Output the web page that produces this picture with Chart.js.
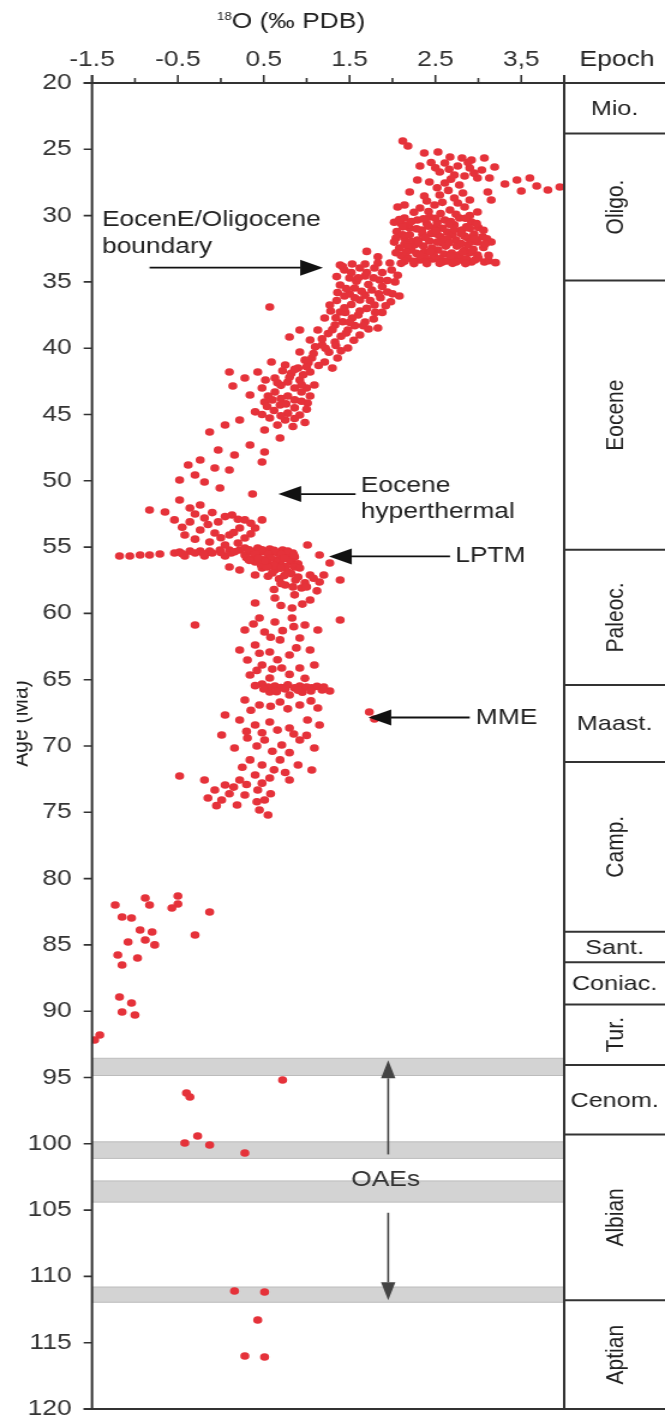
<!DOCTYPE html>
<html>
<head>
<meta charset="utf-8">
<script src="https://cdn.jsdelivr.net/npm/chart.js@4.4.1/dist/chart.umd.min.js"></script>
<style>
  html, body { margin: 0; padding: 0; background: #fff; }
  #chart { display: block; }
</style>
</head>
<body>
<canvas id="chart" style="width:665px;height:1422px"></canvas>
<script>
// oxygen isotope record, [d18O (permil PDB), age (Ma)]
const oligocene = [
  [2.12,24.37],[2.18,24.75],[2.37,25.28],[2.53,25.2],[2.67,25.58],[2.81,25.66],[2.92,25.81],[3.07,25.66],
  [2.32,26.26],[2.61,26.03],[2.76,26.26],[2.90,26.41],[3.04,26.56],[3.19,26.33],[2.55,26.71],[2.72,26.94],
  [2.84,27.01],[2.99,27.16],[3.13,27.16],[2.29,27.32],[2.43,27.47],[2.61,27.54],[2.78,27.69],[3.31,27.62],
  [3.45,27.31],[3.60,27.16],[3.68,27.77],[3.81,28.07],[3.95,27.84],[3.50,28.15],[3.11,28.22],[3.15,28.82],
  [2.20,28.22],[2.37,28.52],[2.55,28.45],[2.72,28.67],[2.90,28.82],
  [2.14,29.2],[2.32,29.43],[2.49,29.2],[2.67,29.58],[2.84,29.35],[2.99,29.73],[2.06,29.35],
  [2.45,26.0],[2.5,26.4],[2.66,26.5],[2.88,26.0],[2.95,26.8],[2.68,27.25],[2.52,27.9],[2.65,28.1],
  [2.82,28.3],[2.4,28.9],[2.58,29.0],[2.76,29.05],[2.25,29.75],[2.42,29.7],[2.56,29.85],[2.74,29.9],[2.9,30.0],
  [2.14,30.18],[2.29,30.33],[2.43,30.1],[2.61,30.33],[2.78,30.18],[2.92,30.48],
  [2.20,30.94],[2.34,31.09],[2.49,30.94],[2.64,31.24],[2.81,31.09],[2.99,31.99],[3.15,31.99],
  [2.14,31.69],[2.29,31.84],[2.43,31.92],[2.58,32.07],[2.74,31.84],[2.88,31.69],
  [2.08,32.44],[2.22,32.59],[2.37,32.74],[2.53,32.59],[2.69,32.82],[2.84,32.59],[2.99,32.97],
  [2.18,33.2],[2.32,33.35],[2.47,33.27],[2.63,33.42],[2.78,33.35],[2.92,33.5],[3.07,33.5],
  [2.05,31.2],[2.26,32.2],[2.56,31.6],[2.72,30.7],[2.40,30.6],[2.88,32.2],[2.10,30.6],[2.48,33.0],
  [2.62,32.3],[2.35,31.4],[2.95,31.4],[1.70,32.7],[1.83,33.1],
  [2.02,30.5],[2.18,30.7],[2.52,30.55],[2.86,30.85],[3.0,30.9],[2.12,31.45],[2.45,31.35],[2.7,31.45],
  [2.84,31.55],[3.05,31.6],[2.22,31.95],[2.52,32.0],[2.92,31.95],[2.14,32.15],[2.36,32.3],[2.75,32.3],
  [3.06,32.4],[2.28,32.85],[2.6,32.9],[2.78,32.95],[2.9,32.8],[2.1,33.0],[2.38,33.1],[2.55,33.25],
  [2.7,33.2],[2.86,33.25],[3.0,33.2],[3.12,33.4],[3.2,33.55],[2.25,33.45],[2.4,33.48],
  [2.08,30.3],[2.22,30.45],[2.36,30.25],[2.5,30.2],[2.68,30.45],[2.85,30.2],[2.98,30.6],
  [2.12,30.85],[2.28,31.0],[2.42,30.8],[2.58,30.95],[2.72,31.05],[2.9,30.95],[3.06,31.1],
  [2.04,31.7],[2.2,31.45],[2.38,31.65],[2.52,31.4],[2.64,31.75],[2.8,31.35],[2.96,31.75],[3.1,31.75],
  [2.02,32.0],[2.18,32.35],[2.3,32.0],[2.46,32.45],[2.66,32.05],[2.8,32.1],[2.94,32.55],[3.08,32.15],
  [2.04,32.8],[2.16,32.75],[2.32,33.0],[2.44,32.7],[2.68,33.05],[2.82,32.75],[2.96,33.35],[3.12,33.0],
  [2.14,33.45],[2.58,33.5],[2.74,33.5],[2.5,31.15],[2.66,30.65],
  // shift at the Eocene/Oligocene boundary
  [1.39,33.73],[1.53,33.65],[1.68,33.65],[1.83,33.57],[1.97,33.57],[2.10,33.6],[2.25,33.62],[2.40,33.62],
  [2.55,33.6],[2.70,33.6],[2.85,33.62]
];
const eocene = [
  [1.44,34.1],[1.62,33.95],[1.79,33.95],[1.99,34.1],[1.50,34.71],[1.68,34.56],[1.85,34.86],[2.03,35.0],
  [1.39,35.23],[1.56,35.46],[1.76,35.61],[1.94,35.76],[2.08,36.06],[1.44,36.06],[1.62,36.36],[1.79,36.74],
  [1.27,36.74],[1.39,37.27],[1.53,37.72],[1.68,38.02],[1.83,38.48],[1.21,37.72],[1.33,38.25],[1.48,38.63],
  [1.62,39.0],[1.13,38.63],[1.04,39.38],[1.18,39.76],[1.33,39.53],[1.48,39.98],[0.92,40.29],[1.06,40.74],
  [1.21,41.04],[1.36,40.74],[0.80,39.15],[0.92,38.63],[0.57,36.89],
  [1.35,34.6],[1.58,34.95],[1.72,35.2],[1.88,35.35],[1.5,35.9],[1.68,36.0],[1.86,36.2],[1.98,36.5],
  [1.35,36.4],[1.52,36.7],[1.7,37.0],[1.88,37.3],[1.45,37.3],[1.6,37.5],[1.78,37.8],[1.28,37.2],
  [1.42,38.0],[1.56,38.3],[1.72,38.55],[1.25,38.9],[1.4,39.1],[1.55,39.4],[1.1,39.9],[1.26,40.3],
  [1.4,40.2],[0.98,40.9],[1.14,41.3],[1.3,41.5],
  [1.42,33.85],[1.52,34.3],[1.7,34.3],[1.88,34.3],[2.06,34.5],[1.6,34.7],[1.78,34.7],[1.94,34.9],
  [1.46,35.5],[1.64,35.7],[1.84,35.9],[2.0,35.9],[1.36,35.8],[1.56,36.2],[1.74,36.4],[1.92,36.8],
  [1.44,36.95],[1.62,37.2],[1.8,37.3],[1.34,37.7],[1.5,38.05],[1.66,38.3],[1.3,38.6],[1.46,38.85],
  [1.18,39.3],[1.34,39.8],[1.22,40.0],[1.08,40.4],[1.02,41.1],
  [0.10,41.79],[0.14,42.85],[0.28,42.25],
  [0.75,41.27],[0.90,41.49],[1.04,41.79],[0.63,42.25],[0.78,42.55],[0.92,42.4],[1.09,42.78],[0.48,43.0],
  [0.63,43.3],[0.78,43.6],[0.94,43.3],[0.51,44.06],[0.69,44.28],[0.86,44.5],[1.01,44.13],[0.40,44.8],
  [0.57,45.26],[0.75,45.41],[0.92,45.04],[0.34,43.53],[0.43,41.79],[0.59,41.04],
  [0.82,41.9],[0.96,42.0],[0.7,42.8],[0.86,43.0],[1.0,43.0],[0.55,43.6],[0.7,43.8],[0.86,43.9],
  [1.0,44.6],[0.62,44.7],[0.78,44.9],[0.48,45.0],[0.66,45.8],[0.84,45.9],[0.98,45.6],[0.72,41.7],[0.52,42.4],
  [0.8,42.2],[0.66,42.6],[0.94,42.75],[0.6,43.9],[0.76,44.2],[0.94,44.0],[0.54,44.4],[0.7,45.1],
  [0.86,45.3],[1.04,43.6],[0.86,41.6],[1.0,41.4],
  [0.22,45.41],[0.05,45.79],[-0.13,46.32],[0.51,46.17],[0.69,46.77],[0.34,47.3],[0.51,47.83],[0.16,48.05],
  [-0.03,47.68],[-0.24,48.43],[-0.38,48.81],[-0.07,49.03],[0.10,49.19],[-0.30,49.56],[-0.48,49.94],
  [-0.19,50.09],[-0.01,50.54],
  [-0.83,52.2],[-0.65,52.35],[-0.48,51.45],[-0.36,52.05],[-0.24,51.82],[-0.54,52.95],[-0.36,53.1],
  [-0.19,52.8],[-0.03,53.1],[0.13,52.58],[0.28,52.95],[0.40,53.56],[0.48,52.95],[-0.24,53.71],[-0.07,53.94],
  [0.10,54.09],[0.28,54.31],[-0.42,54.09],[-0.13,54.62],[0.05,54.84],[0.22,53.56],[0.37,51.0],[0.48,48.58],
  [-0.3,52.5],[-0.1,52.4],[0.05,52.7],[0.2,52.9],[0.35,53.2],[-0.45,53.5],[-0.15,53.3],[0.15,53.9],
  [0.35,54.0],[-0.3,54.4],[0.0,54.3],[0.2,54.7]
];
const paleocene = [
  // LPTM excursion
  [-1.18,55.67],[-1.06,55.67],[-0.94,55.6],[-0.83,55.6],[-0.71,55.52],[-0.54,55.45],[-0.48,55.37],
  [-0.36,55.3],[-0.24,55.3],[-0.13,55.3],[-0.01,55.22],[0.10,55.22],[0.22,55.22],[-0.42,55.67],
  [-0.19,55.67],[0.05,55.67],
  [0.28,55.07],[0.43,55.07],[0.57,55.14],[0.72,55.22],[0.84,55.45],[0.28,55.6],[0.43,55.67],[0.57,55.67],
  [0.72,55.75],[0.86,55.75],[0.40,56.12],[0.55,56.2],[0.69,56.2],[0.83,56.12],[0.48,56.58],[0.63,56.73],
  [0.78,56.88],
  [0.35,55.35],[0.5,55.35],[0.65,55.4],[0.8,55.5],[0.35,55.9],[0.5,55.95],[0.65,55.95],[0.8,55.95],
  [0.47,56.35],[0.62,56.4],[0.76,56.45],[-0.3,55.45],[-0.1,55.45],[0.12,55.45],[0.3,55.8],[0.9,56.25],
  [0.33,55.2],[0.48,55.2],[0.62,55.25],[0.78,55.3],[0.4,55.5],[0.55,55.52],[0.7,55.55],[0.85,55.6],
  [0.33,56.0],[0.44,55.85],[0.58,55.82],[0.74,55.85],[0.54,56.5],[0.7,56.6],[0.86,56.5],[0.52,56.05],
  [-0.45,55.5],[-0.2,55.5],[0.0,55.4],[0.16,55.35],
  [0.92,56.58],[1.04,57.1],[0.87,57.48],[0.75,57.86],[0.94,58.08],[1.15,57.63],[1.01,54.84],[1.15,55.6],
  [1.27,56.2],[1.39,57.48],[1.04,58.99],[0.63,58.84],[0.40,59.22],[0.83,59.59],[0.40,57.1],[0.22,56.73],
  [0.10,56.5],
  [0.55,57.2],[0.68,57.4],[0.82,57.0],[0.98,57.7],[0.62,58.2],[0.86,58.6],[0.7,59.4],[0.95,59.3],[1.12,58.3],
  [0.6,56.95],[0.74,57.15],[0.9,57.25],[1.08,57.35],[0.7,57.75],[0.84,58.0],[1.0,58.0],[1.2,57.1],
  [-0.30,60.87],[1.39,60.5],[0.45,60.35],[0.63,60.65],[0.83,60.35],[0.98,60.87],[1.13,61.25],[0.51,61.4],
  [0.69,62.0],[0.92,61.85],[0.40,62.38],[0.57,62.91],[0.80,63.14],[1.04,62.76],[0.31,63.51],[0.48,63.89],
  [0.71,64.12],[0.92,64.12],[1.09,63.89],[0.34,64.65],[0.57,64.87],[0.28,61.25],[0.22,62.76],
  [0.38,60.8],[0.72,61.3],[0.85,61.0],[0.58,61.8],[0.45,63.0],[0.66,63.5],[0.88,62.6],[0.6,64.2],
  [0.8,64.6],[0.98,64.9],[0.42,64.3]
];
const maastCamp = [
  [0.48,65.32],[0.63,65.47],[0.78,65.39],[0.92,65.47],[1.06,65.62],[1.18,65.77],[1.27,65.85],[0.57,65.93],
  [0.80,66.15],[1.73,67.44],[1.79,67.96],
  [0.55,65.55],[0.7,65.6],[0.86,65.62],[1.0,65.55],[1.12,65.5],[0.65,65.9],[0.95,65.95],
  [0.5,65.7],[0.75,65.7],[0.9,65.8],[1.05,65.85],[1.2,65.55],[0.4,65.45],
  [0.28,66.53],[0.45,66.91],[0.69,66.68],[0.92,66.91],[1.13,67.13],[0.05,67.66],[0.22,68.04],[0.40,68.42],
  [0.57,68.19],[0.80,68.64],[1.01,68.04],[1.15,68.42],[0.31,69.4],[0.51,69.55],[0.71,69.92],[0.92,69.55],
  [1.09,70.15],[0.01,69.17],[0.16,70.15],
  [0.35,67.3],[0.58,67.0],[0.78,67.2],[1.05,66.6],[0.3,68.9],[0.48,69.0],[0.66,68.8],[0.85,69.1],
  [1.0,69.2],[0.42,70.0],[0.6,70.4],[0.8,70.5],[0.25,71.6],[0.62,71.8],[0.75,72.0],[0.3,72.9],
  [0.48,72.8],[0.1,73.6],[0.42,74.2],[0.58,73.6],[-0.05,74.5],[0.15,73.1],
  [-0.48,72.26],[-0.19,72.56],[-0.07,73.32],[0.05,72.94],[0.22,72.56],[-0.15,73.92],[0.01,74.07],
  [0.19,74.45],[0.34,71.05],[0.48,71.43],[0.69,71.05],[0.90,71.43],[1.06,71.81],[0.40,72.19],[0.57,72.41],
  [0.80,72.56],[0.43,73.32],[0.51,74.07],[0.45,74.83],[0.55,75.2],[0.28,73.7]
];
const lateCretaceous = [
  [-0.50,81.31],[-0.50,81.92],[-0.57,82.22],[-0.88,81.46],[-0.83,81.99],[-1.23,81.99],[-1.15,82.9],
  [-1.04,82.97],[-0.13,82.52],[-0.94,83.88],[-0.80,84.03],[-0.88,84.63],[-0.77,85.0],[-1.08,84.78],
  [-0.30,84.25],[-1.20,85.76],[-1.15,86.52],[-0.97,85.99],[-1.18,88.93],[-1.04,89.38],[-1.00,90.29],
  [-1.15,90.06],[-1.41,91.79],[-1.47,92.17]
];
const midCretaceous = [
  [0.72,95.19],[-0.40,96.17],[-0.36,96.47],[-0.27,99.41],[-0.13,100.09],[-0.42,99.94],[0.28,100.69],
  [0.16,111.1],[0.51,111.18],[0.43,113.29],[0.28,116.0],[0.51,116.08]
];

const xTickValues = [-1.5, -0.5, 0.5, 1.5, 2.5, 3.5];
const xTickLabels = ['-1.5', '-0.5', '0.5', '1.5', '2.5', '3,5'];
const xMinorTicks = [-1, 0, 1, 2, 3];
const ageTicks = [20, 25, 30, 35, 40, 45, 50, 55, 60, 65, 70, 75, 80, 85, 90, 95, 100, 105, 110, 115, 120];

const epochNames = ['Mio.', 'Oligo.', 'Eocene', 'Paleoc.', 'Maast.', 'Camp.', 'Sant.', 'Coniac.', 'Tur.', 'Cenom.', 'Albian', 'Aptian'];
const epochBounds = [20, 23.8, 34.9, 55.2, 65.4, 71.2, 84.0, 86.3, 89.5, 94.05, 99.3, 111.8, 120];
const epochUpright = [true, false, false, false, true, false, true, true, false, true, false, false];

// oceanic anoxic events
const oaeBands = [[93.55, 94.85], [99.85, 101.1], [102.8, 104.4], [110.8, 111.95]];

const FONT = "'Liberation Sans', Arial, sans-serif";
const RED = 'rgb(229, 50, 58)';
const stretch = 1.2;
const W = Math.round(665 / stretch);
const H = 1422;

const canvas = document.getElementById('chart');
canvas.width = W;
canvas.height = H;

function toXY(arr) { return arr.map(p => ({ x: p[0], y: p[1] })); }

function arrow(ctx, x0, y0, x1, y1, len, half, color, lw) {
  const ang = Math.atan2(y1 - y0, x1 - x0);
  const bx = x1 - Math.cos(ang) * len, by = y1 - Math.sin(ang) * len;
  ctx.strokeStyle = color;
  ctx.fillStyle = color;
  ctx.lineWidth = lw;
  ctx.beginPath();
  ctx.moveTo(x0, y0);
  ctx.lineTo(bx, by);
  ctx.stroke();
  ctx.beginPath();
  ctx.moveTo(x1, y1);
  ctx.lineTo(bx - Math.sin(ang) * half, by + Math.cos(ang) * half);
  ctx.lineTo(bx + Math.sin(ang) * half, by - Math.cos(ang) * half);
  ctx.closePath();
  ctx.fill();
}

const notes = [
  { lines: ['EocenE/Oligocene', 'boundary'], at: [-1.385, 30.33], step: 2.05, from: [-0.83, 33.93], to: [1.19, 33.93] },
  { lines: ['Eocene', 'hyperthermal'], at: [1.63, 50.4], step: 1.95, from: [1.57, 51.0], to: [0.67, 51.0] },
  { lines: ['LPTM'], at: [2.73, 55.7], step: 0, from: [2.67, 55.7], to: [1.26, 55.7] },
  { lines: ['MME'], at: [2.97, 67.85], step: 0, from: [2.9, 67.85], to: [1.72, 67.85] }
];

const overlay = {
  id: 'overlay',
  beforeDatasetsDraw(chart) {
    const { ctx, chartArea: a, scales: { y } } = chart;
    ctx.save();
    oaeBands.forEach(([from, to]) => {
      const y0 = y.getPixelForValue(from), y1 = y.getPixelForValue(to);
      ctx.fillStyle = '#d3d3d3';
      ctx.fillRect(a.left, y0, a.right - a.left, y1 - y0);
      ctx.strokeStyle = '#bcbcbc';
      ctx.lineWidth = 1;
      ctx.strokeRect(a.left, y0, a.right - a.left, y1 - y0);
    });
    ctx.restore();
  },
  afterDraw(chart) {
    const { ctx, chartArea: a, scales: { x, y } } = chart;
    ctx.save();
    ctx.strokeStyle = '#333';
    ctx.lineWidth = 2;
    ctx.lineCap = 'butt';

    // frame
    ctx.beginPath();
    ctx.moveTo(a.left, a.top - 8); ctx.lineTo(a.left, a.bottom);
    ctx.moveTo(a.left - 7, a.top); ctx.lineTo(W, a.top);
    ctx.moveTo(a.right, a.top - 8); ctx.lineTo(a.right, a.bottom);
    ctx.moveTo(a.left - 7, a.bottom); ctx.lineTo(W, a.bottom);
    ctx.stroke();

    // ticks
    ctx.lineWidth = 1.6;
    ctx.beginPath();
    ageTicks.forEach(v => {
      const py = y.getPixelForValue(v);
      ctx.moveTo(a.left - 7, py); ctx.lineTo(a.left, py);
    });
    xTickValues.forEach(v => {
      const px = x.getPixelForValue(v);
      ctx.moveTo(px, a.top - 8); ctx.lineTo(px, a.top);
    });
    xMinorTicks.forEach(v => {
      const px = x.getPixelForValue(v);
      ctx.moveTo(px, a.top - 5); ctx.lineTo(px, a.top);
    });
    ctx.stroke();

    // epoch column
    const cx = (a.right + W) / 2;
    ctx.lineWidth = 2;
    ctx.beginPath();
    epochBounds.forEach(v => {
      const py = y.getPixelForValue(v);
      ctx.moveTo(a.right, py); ctx.lineTo(W, py);
    });
    ctx.stroke();
    ctx.fillStyle = '#222';
    ctx.font = `21px ${FONT}`;
    ctx.textAlign = 'center';
    ctx.textBaseline = 'middle';
    epochNames.forEach((name, i) => {
      const cy = (y.getPixelForValue(epochBounds[i]) + y.getPixelForValue(epochBounds[i + 1])) / 2;
      if (epochUpright[i]) {
        ctx.fillText(name, cx, cy + 1);
      } else {
        ctx.save();
        ctx.translate(cx + 1, cy);
        ctx.rotate(-Math.PI / 2);
        ctx.fillText(name, 0, 0);
        ctx.restore();
      }
    });
    ctx.font = `22px ${FONT}`;
    ctx.fillText('Epoch', cx + 2, 60);

    // axis titles
    ctx.textAlign = 'left';
    ctx.fillText('O (\u2030 PDB)', 193, 22);
    ctx.font = `11px ${FONT}`;
    ctx.textAlign = 'right';
    ctx.fillText('18', 193, 17);

    ctx.save();
    ctx.beginPath();
    ctx.rect(14, 0, W, H);
    ctx.clip();
    ctx.translate(22.5, y.getPixelForValue(68.3));
    ctx.rotate(-Math.PI / 2);
    ctx.font = `21px ${FONT}`;
    ctx.textAlign = 'center';
    ctx.textBaseline = 'alphabetic';
    ctx.fillText('Age (Ma)', 0, 0);
    ctx.restore();

    // annotations
    ctx.font = `22px ${FONT}`;
    ctx.textAlign = 'left';
    ctx.textBaseline = 'middle';
    notes.forEach(n => {
      n.lines.forEach((line, i) => {
        ctx.fillStyle = '#222';
        ctx.fillText(line, x.getPixelForValue(n.at[0]), y.getPixelForValue(n.at[1] + i * n.step));
      });
      arrow(ctx, x.getPixelForValue(n.from[0]), y.getPixelForValue(n.from[1]),
        x.getPixelForValue(n.to[0]), y.getPixelForValue(n.to[1]), 19, 8, '#111', 1.8);
    });

    // OAE label and arrows
    ctx.textAlign = 'center';
    ctx.fillStyle = '#333';
    ctx.fillText('OAEs', x.getPixelForValue(1.92), y.getPixelForValue(102.75));
    arrow(ctx, x.getPixelForValue(1.95), y.getPixelForValue(100.8), x.getPixelForValue(1.95), y.getPixelForValue(93.7), 18, 6, '#444', 1.6);
    arrow(ctx, x.getPixelForValue(1.95), y.getPixelForValue(105.2), x.getPixelForValue(1.95), y.getPixelForValue(111.8), 18, 6, '#444', 1.6);

    ctx.restore();
  }
};

const groups = [oligocene, eocene, paleocene, maastCamp, lateCretaceous, midCretaceous];

new Chart(canvas, {
  type: 'scatter',
  data: {
    datasets: groups.map(g => ({
      data: toXY(g),
      backgroundColor: RED,
      borderWidth: 0,
      pointRadius: 3.8,
      pointStyle: 'circle'
    }))
  },
  options: {
    responsive: false,
    animation: false,
    events: [],
    layout: { padding: { top: 0, left: 0, right: W - Math.round(564 / stretch), bottom: 13 } },
    plugins: { legend: { display: false }, tooltip: { enabled: false } },
    scales: {
      x: {
        type: 'linear',
        position: 'top',
        min: -1.5,
        max: 4.0,
        afterBuildTicks: s => { s.ticks = xTickValues.map(v => ({ value: v })); },
        afterFit: s => { s.height = 83; s.paddingLeft = 0; s.paddingRight = 0; },
        grid: { display: false, drawTicks: false },
        border: { display: false },
        ticks: {
          autoSkip: false,
          maxRotation: 0,
          padding: 12,
          color: '#333',
          font: { family: FONT, size: 22, lineHeight: 1 },
          callback: (v, i) => xTickLabels[i]
        }
      },
      y: {
        type: 'linear',
        reverse: true,
        min: 20,
        max: 120,
        afterBuildTicks: s => { s.ticks = ageTicks.map(v => ({ value: v })); },
        afterFit: s => { s.width = 92 / stretch; s.paddingTop = 0; s.paddingBottom = 0; },
        grid: { display: false, drawTicks: false },
        border: { display: false },
        ticks: {
          autoSkip: false,
          padding: 17,
          color: '#333',
          font: { family: FONT, size: 22, lineHeight: 1 }
        }
      }
    }
  },
  plugins: [overlay]
});
</script>
</body>
</html>
